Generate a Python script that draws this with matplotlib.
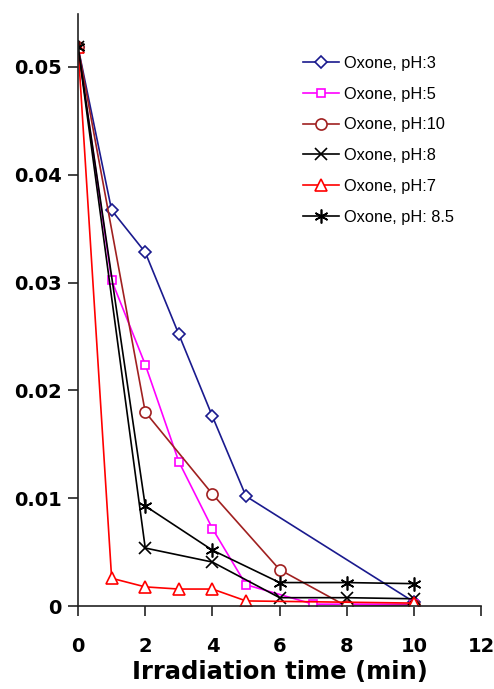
import matplotlib
matplotlib.use("Agg")
import matplotlib.pyplot as plt

plt.rcParams['font.family'] = ['DejaVu Sans']

# Data
t_ph3 = [0, 1, 2, 3, 4, 5, 10]
y_ph3 = [0.0518, 0.0367, 0.0328, 0.0252, 0.0176, 0.0102, 0.0004]

t_ph5 = [0, 1, 2, 3, 4, 5, 7, 10]
y_ph5 = [0.0518, 0.0302, 0.0224, 0.0134, 0.0072, 0.0020, 0.0002, 0.0002]

t_ph10 = [0, 2, 4, 6, 8, 10]
y_ph10 = [0.0518, 0.0180, 0.0104, 0.0034, 0.0000, 0.0001]

t_ph8 = [0, 2, 4, 6, 8, 10]
y_ph8 = [0.0518, 0.0054, 0.0041, 0.0008, 0.0008, 0.0007]

t_ph7 = [0, 1, 2, 3, 4, 5, 10]
y_ph7 = [0.0518, 0.0026, 0.0018, 0.0016, 0.0016, 0.0005, 0.0003]

t_ph85 = [0, 2, 4, 6, 8, 10]
y_ph85 = [0.0518, 0.0093, 0.0052, 0.0022, 0.0022, 0.0021]

labels = ["Oxone, pH:3", "Oxone, pH:5", "Oxone, pH:10",
          "Oxone, pH:8", "Oxone, pH:7", "Oxone, pH: 8.5"]
x_ticks = [0, 2, 4, 6, 8, 10, 12]
y_ticks = [0, 0.01, 0.02, 0.03, 0.04, 0.05]
y_tick_labels = ['0', '0.01', '0.02', '0.03', '0.04', '0.05']

fig = plt.figure(figsize=(4.94, 6.89), dpi=100)
ax = fig.add_axes([0.158, 0.120, 0.816, 0.860])

series = [
    (t_ph3, y_ph3, '#1a1a8e', 'D', 6.5),
    (t_ph5, y_ph5, '#ff00ff', 's', 6.0),
    (t_ph10, y_ph10, '#a02020', 'o', 8.0),
    (t_ph8, y_ph8, '#000000', 'x', 9.0),
    (t_ph7, y_ph7, '#ff0000', '^', 9.0),
    (t_ph85, y_ph85, '#000000', (6, 2, 0), 10.0),
]

handles = []
for (t, y, c, m, ms), lab in zip(series, labels):
    h, = ax.plot(t, y, color=c, lw=1.2, marker=m, markersize=ms,
                 markerfacecolor='white' if m not in ('x', (6, 2, 0)) else c,
                 markeredgecolor=c, markeredgewidth=1.2, label=lab)
    handles.append(h)

ax.set_xlim(0, 12)
ax.set_ylim(0, 0.0549)
ax.set_xticks(x_ticks)
ax.set_yticks(y_ticks)
ax.set_yticklabels(y_tick_labels)

for s in ['top', 'right']:
    ax.spines[s].set_visible(False)
for s in ['left', 'bottom']:
    ax.spines[s].set_linewidth(1.2)
    ax.spines[s].set_color('#222222')

ax.tick_params(axis='both', direction='out', length=7, width=1.2,
               labelsize=14, color='#222222')
ax.tick_params(axis='x', pad=15)
ax.tick_params(axis='y', pad=5)
for lbl in ax.get_xticklabels() + ax.get_yticklabels():
    lbl.set_fontweight('bold')

ax.set_xlabel('Irradiation time (min)', fontsize=17.5, fontweight='bold', labelpad=3)

leg = fig.legend(handles=handles, labels=labels, loc='upper left',
                 bbox_to_anchor=(303 / 494, 1 - 56 / 689), frameon=False,
                 prop={'family': ['Liberation Sans'], 'size': 11.8},
                 handlelength=2.2, labelspacing=0.96,
                 handletextpad=0.3, borderaxespad=0.0, borderpad=0.0)

fig.savefig('out.png', dpi=100)
